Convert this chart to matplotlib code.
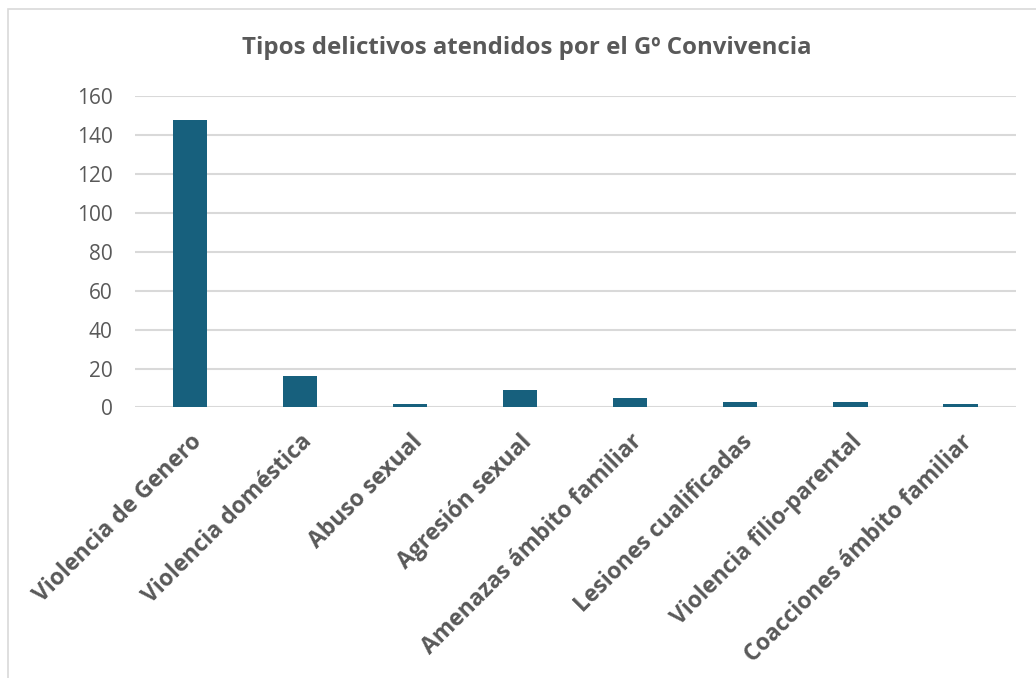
import matplotlib.pyplot as plt
from matplotlib.patches import Rectangle

categorias = ["Violencia de Genero", "Violencia doméstica", "Abuso sexual",
              "Agresión sexual", "Amenazas ámbito familiar",
              "Lesiones cualificadas", "Violencia filio-parental",
              "Coacciones ámbito familiar"]
valores = [148, 16, 2, 9, 5, 3, 3, 2]
yticks = [0, 20, 40, 60, 80, 100, 120, 140, 160]

gris = "#595959"
plt.rcParams['font.family'] = ["Open Sans", "DejaVu Sans"]

fig = plt.figure(figsize=(10.36, 6.78), dpi=100)
# marco del grafico
fig.patches.append(Rectangle((8 / 1036, -0.01), 1.05, 1 - 9 / 678 + 0.01,
                             transform=fig.transFigure, fill=False,
                             edgecolor="#d9d9d9", linewidth=1.2))

ax = fig.add_axes([0.1303, 0.399, 0.850, 0.459])
x = range(len(categorias))
ax.bar(x, valores, width=0.31, color="#17607d", zorder=3)

ax.set_xlim(-0.5, len(categorias) - 0.5)
ax.set_ylim(0, 160)
ax.set_yticks(yticks)
ax.yaxis.grid(True, color="#d9d9d9", linewidth=1.5, zorder=0)
for s in ax.spines.values():
    s.set_visible(False)
ax.tick_params(axis="both", length=0, colors=gris)
ax.tick_params(axis="y", labelsize=15, pad=16)
ax.set_xticks(list(x))
ax.set_xticklabels(categorias, rotation=45, ha="right", rotation_mode="anchor",
                   fontsize=16.5, fontweight="bold", color=gris)
ax.tick_params(axis="x", pad=16)

fig.text(0.508, 0.929, "Tipos delictivos atendidos por el Gº Convivencia",
         ha="center", va="center", fontsize=17.3, fontweight="bold", color=gris)

fig.savefig("out.png", dpi=100)
